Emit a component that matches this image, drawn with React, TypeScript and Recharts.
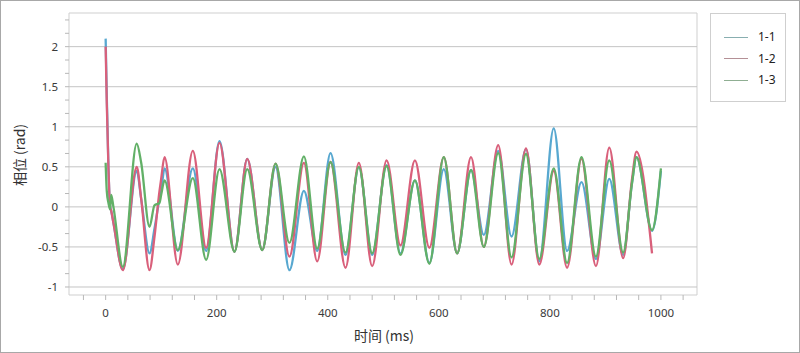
import React from "react";
import { LineChart, Line, XAxis, YAxis, ReferenceLine, ReferenceArea } from "recharts";

// time (ms) of each sample
const times = [0, 2, 5, 8, 10, 14, 31, 56, 64, 79, 88, 97, 100, 106, 130, 157, 181, 205, 232, 255, 282, 306, 331, 357, 381, 405, 432, 456, 480, 506, 531, 557, 583, 609, 633, 658, 681, 707, 731, 757, 781, 807, 831, 857, 883, 907, 932, 948, 956, 984, 1000];

// phase (rad), series "1-1"
const series11 = [2.1, 1.4, 0.5, 0.0, -0.05, -0.2, -0.78, 0.45, 0.1, -0.58, -0.27, 0.1, 0.2, 0.48, -0.55, 0.48, -0.55, 0.82, -0.56, 0.6, -0.54, 0.5, -0.79, 0.2, -0.55, 0.67, -0.6, 0.5, -0.6, 0.52, -0.58, 0.33, -0.7, 0.47, -0.58, 0.46, -0.35, 0.7, -0.37, 0.72, -0.68, 0.98, -0.55, 0.31, -0.65, 0.35, -0.6, 0.3, 0.62, -0.3, 0.45];

// phase (rad), series "1-2"
const series12 = [2.0, 1.3, 0.5, 0.0, -0.05, -0.2, -0.79, 0.5, 0.1, -0.79, -0.37, 0.2, 0.35, 0.62, -0.72, 0.7, -0.51, 0.8, -0.56, 0.6, -0.54, 0.54, -0.62, 0.55, -0.68, 0.56, -0.76, 0.55, -0.74, 0.58, -0.48, 0.58, -0.51, 0.62, -0.58, 0.62, -0.5, 0.77, -0.72, 0.73, -0.72, 0.45, -0.76, 0.6, -0.74, 0.74, -0.64, 0.35, 0.69, -0.58, null];

// phase (rad), series "1-3"
const series13 = [0.55, 0.2, 0.05, -0.03, 0.15, 0.0, -0.75, 0.79, 0.55, -0.25, 0.02, 0.05, 0.15, 0.33, -0.54, 0.36, -0.66, 0.47, -0.56, 0.47, -0.54, 0.54, -0.45, 0.63, -0.52, 0.56, -0.57, 0.5, -0.58, 0.51, -0.6, 0.33, -0.71, 0.62, -0.58, 0.46, -0.5, 0.67, -0.63, 0.66, -0.65, 0.48, -0.7, 0.62, -0.62, 0.58, -0.57, 0.3, 0.62, -0.29, 0.48];

const seriesNames = ["1-1", "1-2", "1-3"];
const seriesKeys = ["s1", "s2", "s3"];
const seriesColors = ["#58a8d0", "#d9607b", "#62b067"];
const legendColors = ["#88aeb0", "#b49096", "#8fae92"];

// axes
const xDomain = [-66, 1065];
const yDomain = [-1.1, 2.42];
const xTicks = [-40, 0, 40, 80, 120, 160, 200, 240, 280, 320, 360, 400, 440, 480, 520, 560, 600, 640, 680, 720, 760, 800, 840, 880, 920, 960, 1000, 1040];
const xLabelTicks = [0, 200, 400, 600, 800, 1000];
const yMajorTicks = [-1, -0.5, 0, 0.5, 1, 1.5, 2];
const yMinorPerMajor = 3;
const xLabel = "时间 (ms)";
const yLabel = "相位 (rad)";

const data = times.map((t, i) => ({ t, s1: series11[i], s2: series12[i], s3: series13[i] }));

const yTicks: number[] = [];
for (let i = 0; i < yMajorTicks.length; i++) {
  yTicks.push(yMajorTicks[i]);
  if (i < yMajorTicks.length - 1) {
    for (let k = 1; k < yMinorPerMajor; k++) {
      yTicks.push(yMajorTicks[i] + ((yMajorTicks[i + 1] - yMajorTicks[i]) * k) / yMinorPerMajor);
    }
  } else {
    const step = (yMajorTicks[i] - yMajorTicks[i - 1]) / yMinorPerMajor;
    for (let v = yMajorTicks[i] + step; v <= yDomain[1]; v += step) yTicks.push(v);
  }
}

const tickFont = "'Noto Sans', 'DejaVu Sans', sans-serif";
const tickColor = "#3a3a3a";
const axisGray = "#b8b8b8";

const YTick = (props: any) => {
  const { x, y, payload } = props;
  const v = payload.value;
  const isMajor = yMajorTicks.some((m) => Math.abs(m - v) < 1e-6);
  return (
    <g>
      <line x1={x - 4} x2={x} y1={y} y2={y} stroke={axisGray} strokeWidth={1} />
      {isMajor && (
        <text x={x - 11} y={y} dy="0.36em" textAnchor="end" fontSize={11.5} fontFamily={tickFont} fill={tickColor}>
          {String(Math.round(v * 100) / 100)}
        </text>
      )}
    </g>
  );
};

const XTick = (props: any) => {
  const { x, y, payload } = props;
  const v = payload.value;
  const isMajor = xLabelTicks.includes(v);
  return (
    <g>
      <line x1={x} x2={x} y1={y} y2={y + 5} stroke={axisGray} strokeWidth={1} />
      {isMajor && (
        <text x={x} y={y + 22} textAnchor="middle" fontSize={11.5} fontFamily={tickFont} fill={tickColor}>
          {String(v)}
        </text>
      )}
    </g>
  );
};

export default function App() {
  return (
    <div
      style={{
        position: "absolute",
        left: 0,
        top: 0,
        width: 800,
        height: 353,
        boxSizing: "border-box",
        border: "1px solid #a8a8a8",
        background: "#ffffff",
        overflow: "hidden",
      }}
    >
      <div style={{ position: "absolute", left: -1, top: -1 }}>
        <LineChart width={800} height={353} data={data} margin={{ top: 13, right: 103, bottom: 28, left: 0 }}>
          <XAxis
            dataKey="t"
            type="number"
            domain={xDomain}
            ticks={xTicks}
            interval={0}
            allowDataOverflow
            axisLine={false}
            tickLine={false}
            tickSize={0}
            tickMargin={0}
            tick={<XTick />}
            height={30}
          />
          <YAxis
            type="number"
            domain={yDomain}
            ticks={yTicks}
            interval={0}
            allowDataOverflow
            axisLine={false}
            tickLine={false}
            tickSize={0}
            tickMargin={0}
            tick={<YTick />}
            width={69}
          />
          <ReferenceArea
            x1={xDomain[0]}
            x2={xDomain[1]}
            y1={yDomain[0]}
            y2={yDomain[1]}
            fill="none"
            stroke="#cfcfcf"
            strokeWidth={1}
            ifOverflow="visible"
          />
          {yMajorTicks.map((v) => (
            <ReferenceLine key={v} y={v} stroke="#c4c4c4" strokeWidth={1} />
          ))}
          {seriesKeys.map((k, i) => (
            <Line
              key={k}
              dataKey={k}
              name={seriesNames[i]}
              type="monotone"
              stroke={seriesColors[i]}
              strokeWidth={2.3}
              dot={false}
              isAnimationActive={false}
              connectNulls={false}
            />
          ))}
        </LineChart>
      </div>
      {/* axis titles */}
      <div
        style={{
          position: "absolute",
          left: 0,
          width: 766,
          top: 324,
          textAlign: "center",
          fontFamily: "'Noto Sans CJK SC', sans-serif",
          fontSize: 14,
          color: "#333",
        }}
      >
        {xLabel}
      </div>
      <div
        style={{
          position: "absolute",
          left: 18,
          top: 154,
          transform: "translate(-50%, -50%) rotate(-90deg)",
          whiteSpace: "nowrap",
          fontFamily: "'Noto Sans CJK SC', sans-serif",
          fontSize: 14,
          color: "#333",
        }}
      >
        {yLabel}
      </div>
      {/* legend */}
      <div
        style={{
          position: "absolute",
          left: 709,
          top: 12,
          width: 76,
          height: 89,
          boxSizing: "border-box",
          border: "1px solid #cfcfcf",
          background: "#fff",
        }}
      >
        {seriesNames.map((n, i) => (
          <div
            key={n}
            style={{ position: "absolute", left: 13, top: 15 + i * 21.5, height: 16, display: "flex", alignItems: "center" }}
          >
            <div style={{ width: 24, height: 1, background: legendColors[i] }} />
            <span
              style={{
                marginLeft: 10,
                fontFamily: tickFont,
                fontSize: 12,
                color: "#222",
                lineHeight: "16px",
              }}
            >
              {n}
            </span>
          </div>
        ))}
      </div>
    </div>
  );
}
